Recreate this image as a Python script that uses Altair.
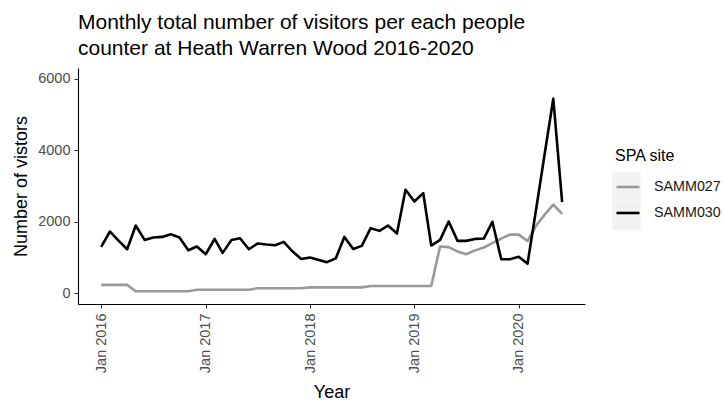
import altair as alt
import pandas as pd

# Monthly people-counter totals, Jan 2016 - Jun 2020
months = pd.date_range("2016-01-01", "2020-06-01", freq="MS").strftime("%Y-%m-%dT00:00:00").tolist()

sites = ["SAMM027", "SAMM030"]

samm027 = [
    235, 235, 235, 235, 55, 55, 55, 55, 55, 55, 55, 100,
    100, 100, 100, 100, 100, 100, 140, 140, 140, 140, 140, 140,
    165, 165, 165, 165, 165, 165, 165, 205, 205, 205, 205, 205,
    205, 205, 205, 1310, 1290, 1170, 1090, 1200, 1280, 1400, 1530, 1640,
    1640, 1460, 1880, 2200, 2480, 2220,
]

samm030 = [
    1300, 1727, 1480, 1232, 1895, 1493, 1559, 1577, 1652, 1559, 1204, 1307,
    1092, 1521, 1130, 1490, 1540, 1232, 1391, 1363, 1344, 1437, 1167, 961,
    999, 930, 870, 975, 1575, 1240, 1325, 1820, 1745, 1895, 1671, 2893,
    2567, 2800, 1335, 1493, 2007, 1465, 1465, 1520, 1530, 2000, 950, 950,
    1020, 830, 2300, 3900, 5440, 2550,
]

year_ticks = [2016, 2017, 2018, 2019, 2020]
visitor_ticks = [0, 2000, 4000, 6000]

df = pd.DataFrame({
    "month": months * 2,
    "visitors": samm027 + samm030,
    "site": [sites[0]] * len(months) + [sites[1]] * len(months),
})
df["key"] = df["site"]

FONT = "Liberation Sans"

x_enc = alt.X(
    "month:T",
    scale=alt.Scale(
        domain=[
            alt.DateTime(year=2015, month=10, date=12),
            alt.DateTime(year=2020, month=8, date=20),
        ],
        nice=False,
    ),
    axis=alt.Axis(
        values=[alt.DateTime(year=y, month=1, date=1) for y in year_ticks],
        format="%b %Y",
        labelAngle=270,
        labelPadding=5,
        title="Year",
        titlePadding=11,
    ),
)

y_enc = alt.Y(
    "visitors:Q",
    scale=alt.Scale(domain=[-300, 6300], nice=False, zero=False),
    axis=alt.Axis(
        values=visitor_ticks,
        format="d",
        labelPadding=4,
        title="Number of vistors",
        titlePadding=7,
    ),
)

# Light grey key panel behind the legend lines (legend only, no marks drawn)
key_panel = (
    alt.Chart(df)
    .transform_filter("datum.visitors < 0")
    .mark_square()
    .encode(
        x=x_enc,
        y=y_enc,
        fill=alt.Fill(
            "key:N",
            scale=alt.Scale(domain=sites, range=["#F2F2F2", "#F2F2F2"]),
            legend=alt.Legend(
                title=None,
                labelExpr="''",
                orient="none",
                legendX=534,
                legendY=104,
                symbolType="square",
                symbolSize=812,
                symbolStrokeWidth=0,
                symbolOpacity=1,
                labelOffset=0,
                rowPadding=0,
            ),
        ),
    )
)

lines = (
    alt.Chart(df)
    .mark_line(strokeWidth=2.6, strokeJoin="round", strokeCap="butt")
    .encode(
        x=x_enc,
        y=y_enc,
        stroke=alt.Stroke(
            "site:N",
            scale=alt.Scale(domain=sites, range=["#999999", "#000000"]),
            legend=alt.Legend(
                title="SPA site",
                orient="none",
                legendX=537,
                legendY=80,
                symbolType="stroke",
                symbolSize=529,
                symbolStrokeWidth=2.6,
                labelOffset=13,
                rowPadding=5,
                titlePadding=10,
            ),
        ),
    )
)

chart = (
    alt.layer(key_panel, lines)
    .resolve_legend(fill="independent", stroke="independent")
    .properties(
        width=507,
        height=236,
        title=alt.TitleParams(
            text=[
                "Monthly total number of visitors per each people",
                "counter at Heath Warren Wood 2016-2020",
            ],
            anchor="start",
            frame="group",
            font=FONT,
            fontSize=21,
            fontWeight="normal",
            color="#000000",
            lineHeight=26,
            offset=9,
        ),
        autosize=alt.AutoSizeParams(type="none"),
        padding={"left": 78, "top": 68, "right": 139, "bottom": 97},
    )
    .configure_view(stroke=None)
    .configure_axis(
        grid=False,
        domainColor="#000000",
        domainWidth=1.1,
        tickColor="#333333",
        tickWidth=1.1,
        tickSize=4,
        labelFont=FONT,
        labelFontSize=14.5,
        labelColor="#4D4D4D",
        titleFont=FONT,
        titleFontSize=18,
        titleFontWeight="normal",
        titleColor="#000000",
    )
    .configure_legend(
        titleFont=FONT,
        titleFontSize=16,
        titleFontWeight="normal",
        titleColor="#000000",
        labelFont=FONT,
        labelFontSize=14.3,
        labelColor="#1A1A1A",
    )
)

chart.save("out.html", embed_options={"renderer": "svg", "actions": False})
